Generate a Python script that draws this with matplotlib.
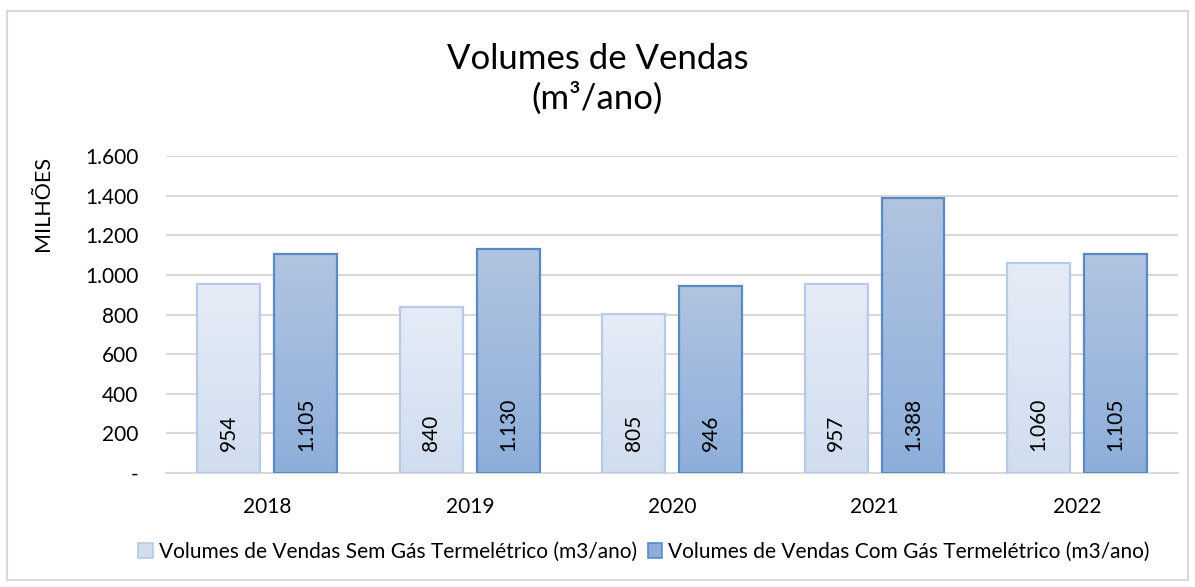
import matplotlib

matplotlib.use("Agg")
import matplotlib.pyplot as plt
import numpy as np
from matplotlib.colors import LinearSegmentedColormap
from matplotlib.patches import Patch, Rectangle
from matplotlib.ticker import FuncFormatter

plt.rcParams["font.family"] = ["Lato", "DejaVu Sans"]

years = ["2018", "2019", "2020", "2021", "2022"]
sem_gas = [954, 840, 805, 957, 1060]
com_gas = [1105, 1130, 946, 1388, 1105]
series_names = [
    "Volumes de Vendas Sem Gás Termelétrico (m3/ano)",
    "Volumes de Vendas Com Gás Termelétrico (m3/ano)",
]

LIGHT = ("#E5ECF7", "#D0DDEF", "#B7CBE8")  # top, bottom, edge
DARK = ("#B1C4E1", "#8DAEDA", "#5A8AC6")


def thousands(v, _pos=None):
    if v == 0:
        return "-"
    return f"{v:,.0f}".replace(",", ".")


def gradient_bars(ax, xs, heights, width, colors):
    top, bottom, edge = colors
    cmap = LinearSegmentedColormap.from_list("g", [bottom, top])
    grad = np.linspace(0, 1, 256).reshape(-1, 1)
    bars = ax.bar(xs, heights, width, color="none", edgecolor=edge,
                  linewidth=1.6, zorder=3)
    for b in bars:
        x0, y0 = b.get_x(), b.get_y()
        w, h = b.get_width(), b.get_height()
        im = ax.imshow(grad, cmap=cmap, aspect="auto", origin="lower",
                       extent=(x0, x0 + w, y0, y0 + h), zorder=2)
        im.set_clip_path(Rectangle((x0, y0), w, h, transform=ax.transData))
    return bars


fig = plt.figure(figsize=(11.95, 5.87), dpi=100)
ax = fig.add_axes([0.139, 0.194, 0.847, 0.540])

x = np.arange(len(years))
width = 0.31
offset = 0.19
gradient_bars(ax, x - offset, sem_gas, width, LIGHT)
gradient_bars(ax, x + offset, com_gas, width, DARK)

for xs, vals in ((x - offset, sem_gas), (x + offset, com_gas)):
    for xi, v in zip(xs, vals):
        ax.annotate(thousands(v), (xi, 0), xytext=(0, 16),
                    textcoords="offset points", rotation=90,
                    ha="center", va="bottom", fontsize=15, color="#000000",
                    zorder=4)

ax.set_xlim(-0.5, len(years) - 0.5)
ax.set_ylim(0, 1600)
ax.set_yticks(np.arange(0, 1601, 200))
ax.yaxis.set_major_formatter(FuncFormatter(thousands))
ax.set_xticks(x)
ax.set_xticklabels(years)
ax.tick_params(axis="both", length=0, labelsize=15, colors="#000000")
ax.tick_params(axis="y", pad=20)
ax.tick_params(axis="x", pad=17)
ax.grid(axis="y", color="#D9D9D9", linewidth=1.5, zorder=0)
ax.set_axisbelow(True)
for side in ("top", "right", "left"):
    ax.spines[side].set_visible(False)
ax.spines["bottom"].set_color("#D9D9D9")
ax.spines["bottom"].set_linewidth(1.5)
ax.set_ylabel("MILHÕES", fontsize=15.5)
ax.yaxis.set_label_coords(-0.112, 0.85)

fig.text(0.5, 0.865, "Volumes de Vendas\n(m³/ano)", ha="center", va="center",
         fontsize=25, linespacing=1.25)

handles = [
    Patch(facecolor=LIGHT[1], edgecolor=LIGHT[2], linewidth=1.2),
    Patch(facecolor=DARK[1], edgecolor=DARK[2], linewidth=1.2),
]
fig.legend(handles, series_names, loc="center", bbox_to_anchor=(0.539, 0.06),
           ncol=2, frameon=False, fontsize=15, handlelength=0.7,
           handleheight=0.7, handletextpad=0.3, columnspacing=0.5)

fig.patches.append(Rectangle((7 / 1195, 7 / 587), 1181 / 1195, 569 / 587,
                             transform=fig.transFigure, fill=False,
                             edgecolor="#D9D9D9", linewidth=1.5))

fig.savefig("out.png", dpi=100)
